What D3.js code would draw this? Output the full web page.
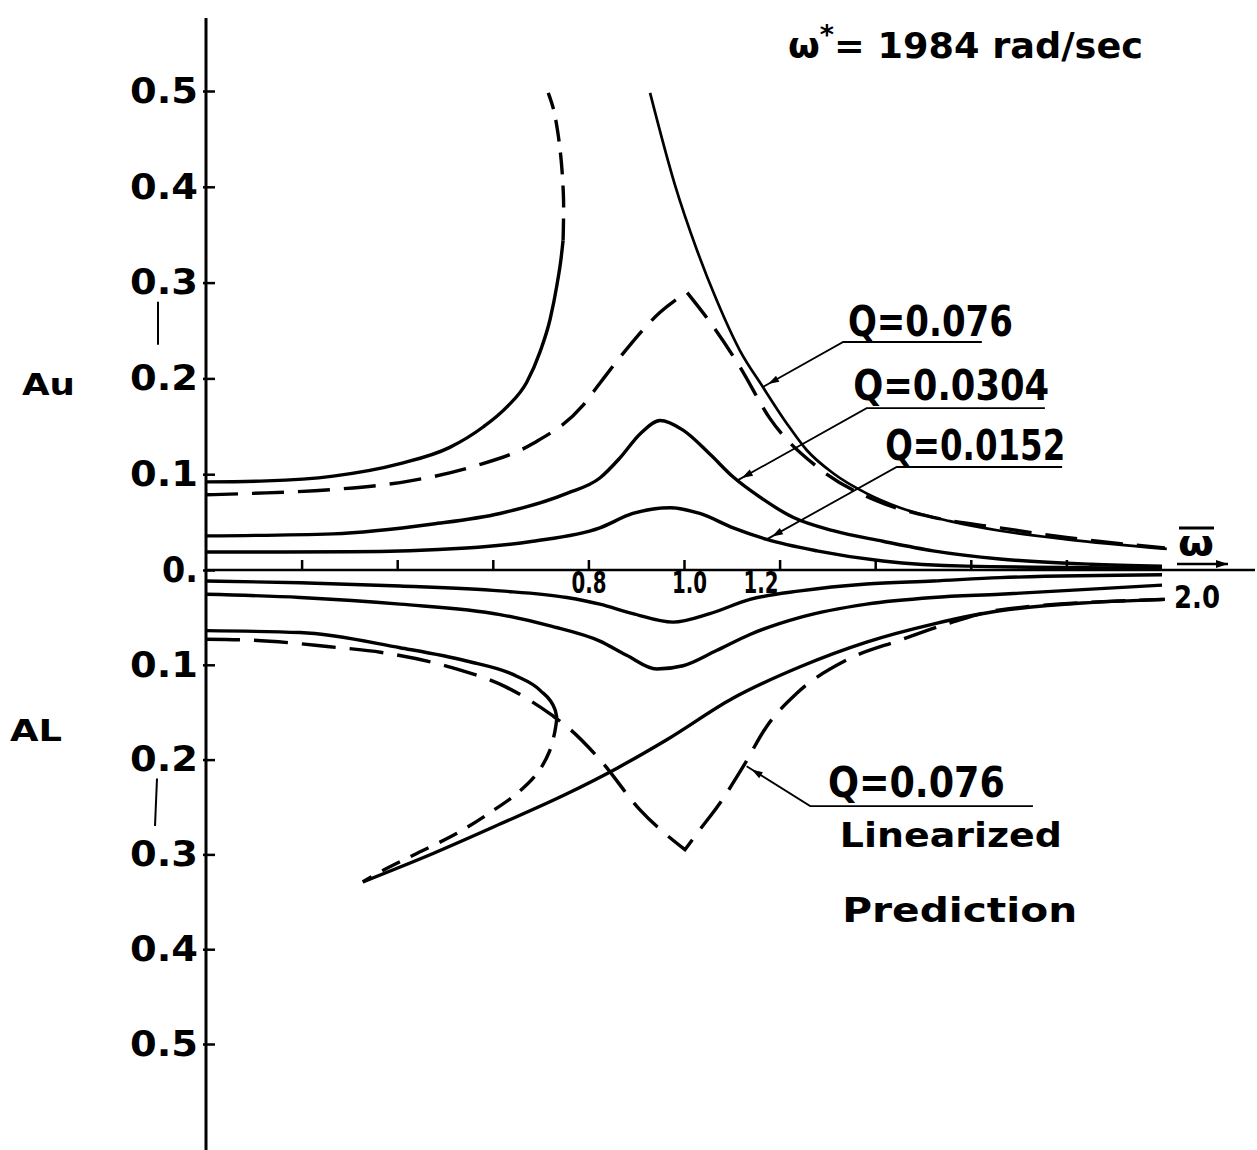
<!DOCTYPE html>
<html>
<head>
<meta charset="utf-8">
<script src="https://cdn.jsdelivr.net/npm/d3@7"></script>
<style>
  body { margin: 0; background: #fff; }
  text { font-family: "DejaVu Sans", sans-serif; font-weight: bold; fill: #000; }
</style>
</head>
<body>
<svg id="chart"></svg>
<script>
// frequency ratio ticks (omega bar) and the ones that carry a label
const omegaTicks = [0.2, 0.4, 0.6, 0.8, 1.0, 1.2, 1.4, 1.6, 1.8];
const omegaLabels = [0.8, 1.0, 1.2];
// amplitude ticks, Au upward and AL downward
const ampTicks = [-0.5, -0.4, -0.3, -0.2, -0.1, 0, 0.1, 0.2, 0.3, 0.4, 0.5];

// ---- upper amplitude Au, [omega bar, Au] ----
// Q=0.076, stable small-amplitude branch
const q076UpSolidLeft = [[0, 0.092], [0.127, 0.093], [0.266, 0.098], [0.406, 0.111], [0.510, 0.128],
  [0.579, 0.149], [0.629, 0.170], [0.671, 0.196], [0.699, 0.228], [0.720, 0.262], [0.734, 0.297],
  [0.743, 0.326], [0.747, 0.344]];
// Q=0.076, unstable part near the jump
const q076UpDashedTop = [[0.747, 0.344], [0.748, 0.386], [0.743, 0.428], [0.735, 0.460],
  [0.727, 0.481], [0.716, 0.498]];
// Q=0.076, large-amplitude branch
const q076UpSolidRight = [[0.929, 0.498], [0.981, 0.402], [1.027, 0.334], [1.068, 0.282], [1.117, 0.229],
  [1.165, 0.191], [1.215, 0.153], [1.257, 0.125], [1.312, 0.101], [1.382, 0.080], [1.452, 0.065],
  [1.556, 0.051], [1.661, 0.041], [1.80, 0.032], [2.01, 0.022]];
// Q=0.076, linearized prediction (sharp peak at 1.006)
const q076UpLinear = [[0, 0.0785], [0.098, 0.080], [0.266, 0.084], [0.427, 0.093], [0.559, 0.108],
  [0.684, 0.132], [0.789, 0.172], [0.824, 0.195], [0.866, 0.222], [0.950, 0.269], [1.006, 0.290],
  [1.054, 0.259], [1.117, 0.212], [1.180, 0.158], [1.280, 0.107], [1.404, 0.072], [1.521, 0.055],
  [1.661, 0.044], [1.80, 0.034], [2.006, 0.023]];
const q0304Up = [[0, 0.0356], [0.266, 0.0377], [0.475, 0.048], [0.615, 0.059], [0.755, 0.080],
  [0.824, 0.096], [0.866, 0.117], [0.908, 0.142], [0.950, 0.156], [0.998, 0.146], [1.054, 0.121],
  [1.103, 0.097], [1.159, 0.076], [1.228, 0.055], [1.312, 0.041], [1.416, 0.030], [1.521, 0.020],
  [1.661, 0.0115], [1.85, 0.006], [2.0, 0.004]];
const q0152Up = [[0, 0.0188], [0.301, 0.019], [0.545, 0.023], [0.684, 0.030], [0.824, 0.044],
  [0.893, 0.059], [0.971, 0.065], [1.033, 0.059], [1.103, 0.044], [1.173, 0.032], [1.278, 0.020],
  [1.416, 0.0094], [1.591, 0.004], [2.0, 0.002]];

// ---- lower amplitude AL, [omega bar, AL] ----
const q0152Low = [[0, 0.0116], [0.197, 0.0134], [0.406, 0.0168], [0.615, 0.022], [0.755, 0.029],
  [0.824, 0.036], [0.893, 0.046], [0.977, 0.055], [1.054, 0.046], [1.138, 0.031], [1.243, 0.022],
  [1.382, 0.0147], [1.521, 0.0116], [1.661, 0.008], [2.0, 0.005]];
const q0304Low = [[0, 0.0256], [0.197, 0.029], [0.406, 0.036], [0.615, 0.047], [0.720, 0.059],
  [0.824, 0.075], [0.880, 0.090], [0.943, 0.1045], [0.998, 0.101], [1.068, 0.085], [1.138, 0.068],
  [1.243, 0.050], [1.382, 0.036], [1.521, 0.029], [1.661, 0.0256], [2.0, 0.016]];
const q076LowSolidSmall = [[0, 0.064], [0.197, 0.066], [0.406, 0.082], [0.545, 0.096], [0.650, 0.112],
  [0.699, 0.127], [0.730, 0.147], [0.734, 0.156]];
const q076LowDashedFold = [[0.734, 0.156], [0.730, 0.170], [0.718, 0.192], [0.692, 0.215], [0.650, 0.236],
  [0.594, 0.256], [0.524, 0.278], [0.441, 0.299], [0.370, 0.317], [0.328, 0.329]];
const q076LowSolidLarge = [[0.328, 0.329], [0.475, 0.299], [0.615, 0.268], [0.755, 0.236], [0.860, 0.209],
  [0.964, 0.179], [1.103, 0.135], [1.243, 0.102], [1.382, 0.076], [1.521, 0.057], [1.661, 0.043],
  [2.006, 0.031]];
// Q=0.076, linearized prediction (sharp trough at 1.002)
const q076LowLinear = [[0, 0.073], [0.098, 0.074], [0.259, 0.081], [0.368, 0.087], [0.515, 0.103],
  [0.626, 0.123], [0.726, 0.154], [0.757, 0.166], [0.824, 0.200], [0.908, 0.253], [1.002, 0.295],
  [1.033, 0.274], [1.075, 0.246], [1.123, 0.208], [1.173, 0.165], [1.236, 0.130], [1.340, 0.095],
  [1.452, 0.074], [1.556, 0.056], [1.661, 0.042], [2.006, 0.031]];

const width = 1257, height = 1150;

const svg = d3.select("#chart").attr("width", width).attr("height", height);
svg.append("rect").attr("width", width).attr("height", height).attr("fill", "#fff");

// scales: lower amplitudes are drawn below the axis (negative side)
const x = d3.scaleLinear().domain([0, 2]).range([206, 1162]);
const y = d3.scaleLinear().domain([-0.5, 0, 0.5]).range([1044, 570, 91]);

// arrow heads
const defs = svg.append("defs");
defs.append("marker").attr("id", "tipHead")
  .attr("markerUnits", "userSpaceOnUse")
  .attr("markerWidth", 20).attr("markerHeight", 20)
  .attr("refX", -6).attr("refY", 0)
  .attr("orient", "auto").attr("overflow", "visible")
  .append("path").attr("d", "M0,0 L11,-3.5 L11,3.5 Z").attr("fill", "#000");
defs.append("marker").attr("id", "axisHead")
  .attr("markerUnits", "userSpaceOnUse")
  .attr("markerWidth", 20).attr("markerHeight", 20)
  .attr("refX", 0).attr("refY", 0)
  .attr("orient", "auto").attr("overflow", "visible")
  .append("path").attr("d", "M0,0 L-12,-4 L-12,4 Z").attr("fill", "#000");

// y axis
const yAxis = d3.axisLeft(y)
  .tickValues(ampTicks)
  .tickSizeInner(-9).tickSizeOuter(0).tickPadding(10)
  .tickFormat(d => d === 0 ? "0." : d3.format(".1f")(Math.abs(d)));
const gy = svg.append("g").attr("transform", "translate(206,0)").call(yAxis);
gy.select(".domain").remove();
gy.selectAll(".tick line").attr("stroke", "#000").attr("stroke-width", 2.5).attr("x1", -3);
gy.selectAll(".tick text")
  .attr("font-size", 35).attr("font-family", "DejaVu Sans").attr("font-weight", "bold")
  .attr("x", -8)
  .attr("textLength", d => d === 0 ? 36 : 68).attr("lengthAdjust", "spacingAndGlyphs");
svg.append("line").attr("x1", 206).attr("x2", 206).attr("y1", 18).attr("y2", 1150)
  .attr("stroke", "#000").attr("stroke-width", 3);

// x axis, ticks point upward
const xAxis = d3.axisBottom(x)
  .tickValues(omegaTicks)
  .tickSizeInner(-10).tickSizeOuter(0).tickPadding(4)
  .tickFormat(d => omegaLabels.includes(d) ? d3.format(".1f")(d) : "");
const gx = svg.append("g").attr("transform", `translate(0,${y(0)})`).call(xAxis);
gx.select(".domain").remove();
gx.selectAll(".tick line").attr("stroke", "#000").attr("stroke-width", 2.5);
gx.selectAll(".tick text")
  .attr("font-size", 31).attr("font-family", "DejaVu Sans").attr("font-weight", "bold")
  .attr("textLength", 35).attr("lengthAdjust", "spacingAndGlyphs")
  .attr("dx", d => d === 1.2 ? -19 : (d === 1.0 ? 5 : 0))
  .attr("dy", "0.62em");
svg.append("line").attr("x1", 206).attr("x2", 1255).attr("y1", y(0)).attr("y2", y(0))
  .attr("stroke", "#000").attr("stroke-width", 2.5);
svg.append("text").attr("x", x(2.0) + 12).attr("y", y(0) + 38)
  .attr("font-size", 32).attr("textLength", 46).attr("lengthAdjust", "spacingAndGlyphs")
  .text("2.0");

// omega bar symbol with its arrow
svg.append("text").attr("x", x(2.0) + 16).attr("y", y(0) - 14)
  .attr("font-size", 36).attr("textLength", 36).attr("lengthAdjust", "spacingAndGlyphs")
  .text("ω");
svg.append("line").attr("x1", x(2.0) + 17).attr("x2", x(2.0) + 52)
  .attr("y1", y(0) - 42).attr("y2", y(0) - 42).attr("stroke", "#000").attr("stroke-width", 3);
svg.append("line").attr("x1", x(2.0) + 15).attr("x2", x(2.0) + 66)
  .attr("y1", y(0) - 6).attr("y2", y(0) - 6).attr("stroke", "#000").attr("stroke-width", 2.5)
  .attr("marker-end", "url(#axisHead)");

// curves
const lineX = d3.line().x(d => x(d[0])).y(d => y(d[1])).curve(d3.curveMonotoneX);
const lineFold = d3.line().x(d => x(d[0])).y(d => y(d[1])).curve(d3.curveCatmullRom.alpha(0.5));
const below = arr => arr.map(d => [d[0], -d[1]]);
// smooth on both sides of a sharp corner, drawn as one path so the dashes run on
const cornered = (arr, at) => {
  const i = arr.findIndex(d => d[0] === at);
  return lineX(arr.slice(0, i + 1)) + lineX(arr.slice(i)).replace(/^M/, "L");
};

const curves = [
  { d: lineX(q076UpSolidLeft), dash: null },
  { d: lineFold(q076UpDashedTop), dash: "22,11" },
  { d: lineX(q076UpSolidRight), dash: null, w: 2.7 },
  { d: cornered(q076UpLinear, 1.006), dash: "32,14" },
  { d: lineX(q0304Up), dash: null },
  { d: lineX(q0152Up), dash: null },
  { d: lineX(below(q0152Low)), dash: null },
  { d: lineX(below(q0304Low)), dash: null },
  { d: lineX(below(q076LowSolidSmall)), dash: null },
  { d: lineFold(below(q076LowDashedFold)), dash: "20,12" },
  { d: lineX(below(q076LowSolidLarge)), dash: null },
  { d: cornered(below(q076LowLinear), 1.002), dash: "34,14" }
];
svg.append("g").selectAll("path").data(curves).join("path")
  .attr("d", d => d.d)
  .attr("fill", "none").attr("stroke", "#000")
  .attr("stroke-width", d => d.w || 3.4)
  .attr("stroke-dasharray", d => d.dash);

// leader lines and labels
const notes = [
  { text: "Q=0.076", tip: [1.165, 0.191], elbow: [1.333, 0.238], end: 1.623, tx: 1.343, ty: 0.244, len: 165 },
  { text: "Q=0.0304", tip: [1.110, 0.093], elbow: [1.382, 0.169], end: 1.755, tx: 1.354, ty: 0.177, len: 196 },
  { text: "Q=0.0152", tip: [1.173, 0.032], elbow: [1.445, 0.1075], end: 1.791, tx: 1.421, ty: 0.115, len: 180 },
  { text: "Q=0.076", tip: [1.131, -0.207], elbow: [1.264, -0.249], end: 1.730, tx: 1.301, ty: -0.2395, len: 177 }
];
const gn = svg.append("g");
notes.forEach(n => {
  gn.append("polyline")
    .attr("points", [[x(n.tip[0]), y(n.tip[1])], [x(n.elbow[0]), y(n.elbow[1])], [x(n.end), y(n.elbow[1])]]
      .map(p => p.join(",")).join(" "))
    .attr("fill", "none").attr("stroke", "#000").attr("stroke-width", 1.8)
    .attr("marker-start", "url(#tipHead)");
  gn.append("text").attr("x", x(n.tx)).attr("y", y(n.ty))
    .attr("font-size", 42).attr("textLength", n.len).attr("lengthAdjust", "spacingAndGlyphs")
    .text(n.text);
});
gn.append("text").attr("x", x(1.326)).attr("y", y(-0.292))
  .attr("font-size", 34).attr("textLength", 222).attr("lengthAdjust", "spacingAndGlyphs")
  .text("Linearized");
gn.append("text").attr("x", x(1.331)).attr("y", y(-0.371))
  .attr("font-size", 34).attr("textLength", 235).attr("lengthAdjust", "spacingAndGlyphs")
  .text("Prediction");

// axis names and the small label brackets
svg.append("text").attr("x", 22).attr("y", y(0.195) + 12)
  .attr("font-size", 31).attr("textLength", 53).attr("lengthAdjust", "spacingAndGlyphs").text("Au");
svg.append("text").attr("x", 10).attr("y", y(-0.168) + 12)
  .attr("font-size", 31).attr("textLength", 52).attr("lengthAdjust", "spacingAndGlyphs").text("AL");
svg.append("line").attr("x1", 158).attr("x2", 158).attr("y1", y(0.28)).attr("y2", y(0.235))
  .attr("stroke", "#000").attr("stroke-width", 2);
svg.append("line").attr("x1", 157).attr("x2", 155).attr("y1", y(-0.22)).attr("y2", y(-0.27))
  .attr("stroke", "#000").attr("stroke-width", 2);

// frequency note at the top
const title = svg.append("text").attr("x", 788).attr("y", 58).attr("font-size", 35)
  .attr("textLength", 355).attr("lengthAdjust", "spacingAndGlyphs");
title.append("tspan").text("ω");
title.append("tspan").attr("font-size", 26).attr("dy", -14).text("*");
title.append("tspan").attr("dy", 14).text("= 1984 rad/sec");
</script>
</body>
</html>
